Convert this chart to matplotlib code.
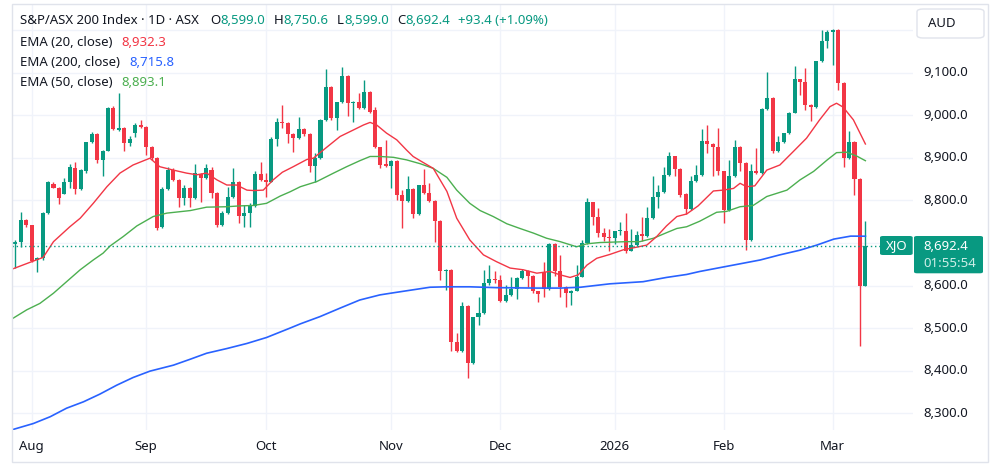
import matplotlib
matplotlib.use('Agg')
import matplotlib.pyplot as plt
import numpy as np
import pandas as pd
from matplotlib.patches import FancyBboxPatch, Rectangle

plt.rcParams['font.family'] = ['Noto Sans', 'DejaVu Sans']

# ---------------- data ----------------
holidays = ['2025-12-25', '2025-12-26', '2026-01-01', '2026-01-26']
dates = pd.bdate_range('2025-07-29', '2026-03-10')
dates = dates[~dates.isin(pd.to_datetime(holidays))]

opens = [8698, 8703, 8754, 8741, 8660, 8664, 8770, 8839, 8830, 8815,
         8842, 8877, 8826, 8870, 8936, 8956, 8895, 8917, 9016, 8965,
         8969, 8934, 8958, 8977, 8972, 8926, 8899, 8737, 8826, 8871,
         8848, 8805, 8828, 8805, 8862, 8852, 8872, 8817, 8742, 8771,
         8809, 8844, 8764, 8771, 8787, 8862, 8848, 8844, 8944, 8985,
         8981, 8956, 8946, 8967, 8956, 8881, 8899, 8989, 9067, 8993,
         9030, 9093, 9028, 9031, 9016, 9054, 9011, 8925, 8885, 8881,
         8893, 8813, 8799, 8826, 8768, 8835, 8817, 8799, 8752, 8635,
         8637, 8468, 8447, 8552, 8417, 8525, 8535, 8605, 8616, 8614,
         8564, 8578, 8593, 8617, 8635, 8622, 8586, 8631, 8591, 8698,
         8634, 8597, 8583, 8588, 8621, 8699, 8795, 8762, 8724, 8715,
         8712, 8727, 8728, 8682, 8695, 8720, 8716, 8758, 8807, 8819,
         8860, 8903, 8873, 8815, 8780, 8846, 8860, 8940, 8933, 8926,
         8868, 8777, 8856, 8926, 8887, 8707, 8870, 8865, 9014, 9041,
         8915, 8936, 8958, 9006, 9084, 9079, 9024, 9019, 9126, 9173,
         9196, 9199, 9075, 8899, 8938, 8850, 8599.0]
highs = [8707, 8772, 8756, 8743, 8666, 8772, 8846, 8842, 8832, 8852,
         8885, 8889, 8873, 8938, 8961, 8958, 8919, 9018, 9022, 9051,
         8973, 8950, 8981, 8989, 8975, 8928, 8901, 8832, 8879, 8875,
         8850, 8836, 8832, 8885, 8865, 8885, 8879, 8819, 8774, 8832,
         8875, 8846, 8789, 8793, 8870, 8891, 8864, 8948, 8993, 9024,
         8983, 8958, 8995, 8969, 8958, 8912, 8991, 9108, 9069, 9032,
         9114, 9095, 9033, 9052, 9083, 9056, 9020, 8926, 8942, 8895,
         8895, 8824, 8856, 8828, 8836, 8873, 8840, 8801, 8754, 8638,
         8639, 8488, 8562, 8554, 8527, 8572, 8637, 8648, 8633, 8625,
         8601, 8621, 8619, 8638, 8637, 8624, 8588, 8656, 8701, 8700,
         8672, 8599, 8590, 8648, 8707, 8805, 8797, 8783, 8736, 8732,
         8729, 8750, 8771, 8732, 8727, 8762, 8785, 8856, 8835, 8879,
         8914, 8905, 8875, 8817, 8856, 8883, 8968, 8977, 8935, 8969,
         8870, 8895, 8942, 8928, 8889, 8886, 8924, 9016, 9102, 9043,
         8951, 8959, 9008, 9116, 9086, 9110, 9026, 9128, 9200, 9199,
         9202, 9202, 9077, 8963, 8940, 8852, 8750.6]
lows = [8641, 8691, 8738, 8656, 8631, 8660, 8768, 8828, 8791, 8815,
        8828, 8814, 8824, 8864, 8934, 8887, 8857, 8915, 8965, 8963,
        8917, 8928, 8948, 8970, 8907, 8895, 8731, 8734, 8824, 8846,
        8784, 8788, 8784, 8803, 8795, 8850, 8805, 8738, 8740, 8769,
        8805, 8746, 8738, 8738, 8785, 8846, 8809, 8842, 8928, 8969,
        8934, 8914, 8944, 8950, 8867, 8844, 8897, 8987, 8989, 8964,
        9028, 8998, 8985, 9014, 9014, 9006, 8923, 8875, 8879, 8828,
        8801, 8734, 8797, 8758, 8766, 8815, 8797, 8703, 8613, 8590,
        8447, 8445, 8445, 8384, 8415, 8507, 8533, 8601, 8605, 8562,
        8562, 8576, 8568, 8615, 8597, 8582, 8562, 8574, 8589, 8622,
        8572, 8549, 8554, 8586, 8619, 8697, 8742, 8715, 8705, 8680,
        8698, 8719, 8676, 8680, 8693, 8705, 8714, 8756, 8781, 8817,
        8858, 8856, 8809, 8768, 8778, 8844, 8858, 8911, 8858, 8860,
        8746, 8775, 8854, 8870, 8684, 8705, 8862, 8862, 9012, 8911,
        8913, 8934, 8956, 9004, 9048, 9012, 8987, 9017, 9124, 9157,
        9118, 9059, 8879, 8897, 8813, 8458, 8599.0]
closes = [8703, 8754, 8741, 8658, 8664, 8770, 8842, 8830, 8805, 8842,
          8879, 8826, 8871, 8936, 8956, 8895, 8917, 9016, 8967, 8969,
          8934, 8945, 8977, 8972, 8925, 8899, 8734, 8826, 8871, 8848,
          8805, 8828, 8805, 8864, 8852, 8875, 8817, 8742, 8771, 8809,
          8844, 8764, 8771, 8787, 8862, 8848, 8844, 8944, 8985, 8981,
          8956, 8946, 8967, 8956, 8881, 8899, 8989, 9067, 8993, 9030,
          9093, 9028, 9032, 9016, 9054, 9008, 8925, 8883, 8881, 8893,
          8813, 8799, 8826, 8768, 8835, 8817, 8799, 8752, 8635, 8637,
          8468, 8447, 8552, 8417, 8525, 8535, 8605, 8615, 8613, 8564,
          8578, 8593, 8617, 8635, 8622, 8586, 8580, 8591, 8698, 8634,
          8597, 8583, 8588, 8621, 8699, 8795, 8762, 8724, 8715, 8712,
          8727, 8731, 8682, 8695, 8719, 8716, 8758, 8807, 8819, 8860,
          8903, 8873, 8813, 8780, 8846, 8860, 8940, 8933, 8926, 8868,
          8777, 8856, 8926, 8887, 8707, 8868, 8865, 9014, 9041, 8915,
          8936, 8958, 9006, 9084, 9079, 9024, 9019, 9126, 9173, 9195,
          9199, 9075, 8899, 8938, 8850, 8599, 8692.4]

# EMA readings (bar position, value)
ema20_x = [-0.7, 3, 5.1, 7, 10, 11.9, 14.3, 16.8, 19.2, 21.6, 24.7, 26.5, 29, 31.4,
           33.3, 35.1, 37, 38.8, 40.6, 42.5, 43.7, 45.5, 47.3, 49, 51, 53.5, 54.7,
           56.5, 59.6, 62, 63.9, 65.1, 66.3, 68.1, 70, 71.8, 73, 74.3, 76.7, 79.2,
           81, 83.4, 85.9, 88.3, 90.8, 93.2, 95.7, 98.1, 100, 101.8, 103.3, 104.9,
           106.7, 109.1, 111.6, 114, 115.9, 117.7, 119.5, 121.4, 123.2, 125.3,
           128.1, 129.9, 131.8, 133, 134.2, 135.7, 137.9, 140.3, 142.8, 145.2,
           147.6, 149.5, 150.7, 151.9, 153.8, 156]
ema20_y = [8638, 8656, 8666, 8703, 8738, 8758, 8793, 8832, 8864, 8883, 8899, 8879, 8871, 8864,
           8860, 8864, 8848, 8836, 8836, 8824, 8823, 8824, 8848, 8866, 8879, 8896, 8899,
           8918, 8950, 8965, 8977, 8983, 8977, 8958, 8942, 8918, 8903, 8893, 8875, 8821,
           8758, 8707, 8672, 8656, 8641, 8637, 8629, 8633, 8625, 8619, 8625, 8648,
           8664, 8673, 8684, 8690, 8695, 8715, 8740, 8762, 8768, 8787,
           8822, 8824, 8828, 8840, 8832, 8834, 8871, 8883, 8915, 8946,
           8989, 9020, 9028, 9019, 8989, 8932.3]
ema50_x = [-0.7, 2.1, 4.5, 7, 9.4, 11.9, 14.3, 16.1, 17.4, 19.8, 22.3, 25.3, 27.8, 32.1,
           35.1, 38.8, 41.2, 43.7, 46.1, 48.6, 50.4, 52.3, 55.3, 58.4, 60.8, 63.2, 65.1,
           66.9, 69.4, 71.8, 74.3, 76.7, 79.2, 81, 83.4, 85.3, 87.7, 90.2, 92.6, 95.1,
           97.5, 100, 103, 104.9, 107.3, 112.2, 114.6, 117.1, 119.5, 121.4, 123.2,
           125.6, 128.7, 130.5, 133, 135.4, 137.9, 141.6, 144, 146.5, 149, 150.7,
           152.6, 154.4, 156]
ema50_y = [8521, 8543, 8558, 8582, 8609, 8637, 8660, 8676, 8693, 8715, 8740, 8762, 8770, 8776,
           8784, 8785, 8787, 8788, 8793, 8810, 8820, 8832, 8844, 8864, 8879, 8893, 8903,
           8903, 8901, 8895, 8886, 8875, 8854, 8824, 8793, 8776, 8762, 8745, 8734, 8723,
           8711, 8703, 8691, 8698, 8701, 8703, 8703, 8711, 8724, 8734, 8738,
           8751, 8772, 8774, 8785, 8788, 8809, 8824, 8848, 8868, 8895, 8912,
           8913, 8904, 8893.1]
ema200_x = [-0.7, 3.3, 6.4, 9.4, 12.5, 15.5, 18.6, 21.6, 24.7, 29, 32.1, 35.1, 38.8, 42.5,
            46.1, 50.4, 52.3, 55.9, 59.6, 63.2, 66.9, 69.4, 73, 76.1, 79.2, 83.4, 88.3,
            95.7, 100, 103.7, 109.1, 115.2, 119.5, 123.2, 125.6, 129.7, 133, 136.7,
            140.3, 144, 147.1, 150.2, 153.3, 156]
ema200_y = [8261, 8276, 8292, 8312, 8327, 8345, 8366, 8384, 8399, 8413, 8427, 8441, 8452, 8464,
            8478, 8500, 8510, 8527, 8547, 8566, 8578, 8583, 8590, 8596, 8597, 8597, 8595,
            8594, 8594, 8596, 8604, 8609, 8619, 8626, 8633, 8643, 8651, 8660,
            8672, 8683, 8695, 8709, 8716, 8715.8]

price_ticks = [8300, 8400, 8500, 8600, 8700, 8800, 8900, 9000, 9100, 9200]
hidden_price_labels = [8700, 9200]

# ---------------- styling ----------------
GREEN = '#089981'
RED = '#F23645'
TXT = '#131722'
GRID = '#F0F3FA'
W, H = 1000, 468

def fx(px):
    return px / W

def fy(py):
    return 1 - py / H

fig = plt.figure(figsize=(W / 100, H / 100), dpi=100)
fig.patch.set_facecolor('white')
ax_l, ax_r, ax_t, ax_b = 11.7, 913, 4, 430
ax = fig.add_axes([fx(ax_l), fy(ax_b), fx(ax_r - ax_l), (ax_b - ax_t) / H])
ax.set_facecolor('white')
for s in ax.spines.values():
    s.set_visible(False)
ax.set_xticks([])
ax.set_yticks([])

px_per_bar = 5.449
x0_idx = -0.67
ax.set_xlim(x0_idx, x0_idx + (ax_r - ax_l) / px_per_bar)
ax.set_ylim(8260.8, 9261.0)

idx = np.arange(len(dates))
o = np.array(opens, float)
h = np.array(highs, float)
l = np.array(lows, float)
c = np.array(closes, float)

# month starts
month_idx = [i for i in range(1, len(dates)) if dates[i].month != dates[i - 1].month]
month_lbl = []
for i in month_idx:
    d = dates[i]
    month_lbl.append(str(d.year) if d.month == 1 else d.strftime('%b'))

# grid
for p in price_ticks:
    ax.axhline(p, color=GRID, lw=1, zorder=0)
for i in month_idx:
    ax.axvline(i, color=GRID, lw=1, zorder=0)

# candles
cols = np.where(c >= o, GREEN, RED)
ax.vlines(idx, l, h, colors=cols, lw=1, zorder=2)
body_h = np.maximum(np.abs(c - o), 1.6)
ax.bar(idx, body_h, bottom=np.minimum(o, c), width=0.74, color=cols,
       linewidth=0, zorder=3)

# EMAs
ax.plot(ema200_x, ema200_y, color='#2962FF', lw=1.2, zorder=4)
ax.plot(ema50_x, ema50_y, color='#4CAF50', lw=1.0, zorder=4)
ax.plot(ema20_x, ema20_y, color=RED, lw=1.0, zorder=4)

# last price dotted line
last = closes[-1]
x_end = x0_idx + (880 - ax_l) / px_per_bar
ax.plot([x0_idx, x_end], [last, last], color=GREEN, lw=1, ls=(0, (1, 2)), zorder=5)

# widget border
fig.patches.append(Rectangle((fx(ax_l), fy(462)), fx(988 - ax_l), (462 - 4) / H,
                             transform=fig.transFigure, fill=False,
                             edgecolor='#E0E3EB', lw=1))

# price axis labels
def price_to_py(p):
    y0, y1 = 8260.8, 9261.0
    return ax_b - (p - y0) / (y1 - y0) * (ax_b - ax_t)

FS = 9.5
for p in price_ticks:
    if p in hidden_price_labels:
        continue
    fig.text(fx(923), fy(price_to_py(p)), f'{p:,.1f}', color=TXT, fontsize=FS,
             ha='left', va='center')

# time axis labels
for i, lab in zip(month_idx, month_lbl):
    px = ax_l + (i - x0_idx) * px_per_bar
    fig.text(fx(px), fy(446.5), lab, color=TXT, fontsize=FS, ha='center', va='center',
             fontweight='bold' if lab.isdigit() else 'normal')

# AUD box
fig.patches.append(FancyBboxPatch((fx(917), fy(38)), fx(984 - 917), (38 - 9) / H,
                                  boxstyle='round,pad=0,rounding_size=0.006',
                                  transform=fig.transFigure, facecolor='white',
                                  edgecolor='#E0E3EB', lw=1))
fig.text(fx(928), fy(23.5), 'AUD', color=TXT, fontsize=FS, ha='left', va='center')

# XJO + price labels
fig.patches.append(FancyBboxPatch((fx(880), fy(255)), fx(912.7 - 880), (255 - 236) / H,
                                  boxstyle='round,pad=0,rounding_size=0.003',
                                  transform=fig.transFigure, facecolor=GREEN,
                                  edgecolor='none'))
fig.text(fx(896.3), fy(245.5), 'XJO', color='white', fontsize=FS, ha='center', va='center')
fig.patches.append(FancyBboxPatch((fx(914), fy(273.3)), fx(983 - 914), (273.3 - 236) / H,
                                  boxstyle='round,pad=0,rounding_size=0.003',
                                  transform=fig.transFigure, facecolor=GREEN,
                                  edgecolor='none'))
fig.text(fx(923), fy(246), f'{last:,.1f}', color='white', fontsize=FS, ha='left', va='center')
fig.text(fx(923), fy(263.5), '01:55:54', color='#CDEEE7', fontsize=FS, ha='left', va='center')

# header legend
fig.canvas.draw()
renderer = fig.canvas.get_renderer()

def chain(pieces, x, y):
    for s, col, gap in pieces:
        x += gap
        t = fig.text(fx(x), fy(y), s, color=col, fontsize=FS, ha='left', va='center')
        x = t.get_window_extent(renderer).x1

o_last, h_last, l_last = opens[-1], highs[-1], lows[-1]
chg = closes[-1] - closes[-2]
pct = chg / closes[-2] * 100
chain([('S&P/ASX 200 Index · 1D · ASX', TXT, 0),
       ('O', TXT, 11), (f'{o_last:,.1f}', GREEN, 0.5),
       ('H', TXT, 8), (f'{h_last:,.1f}', GREEN, 0.5),
       ('L', TXT, 8), (f'{l_last:,.1f}', GREEN, 0.5),
       ('C', TXT, 8), (f'{closes[-1]:,.1f}', GREEN, 0.5),
       (f'+{chg:,.1f} (+{pct:.2f}%)', GREEN, 8)], 20, 21)
chain([('EMA (20, close)', TXT, 0), ('8,932.3', RED, 9)], 20, 42)
chain([('EMA (200, close)', TXT, 0), ('8,715.8', '#2962FF', 9)], 20, 62)
chain([('EMA (50, close)', TXT, 0), ('8,893.1', '#4CAF50', 9)], 20, 82)

fig.savefig('out.png', dpi=100, facecolor='white')
